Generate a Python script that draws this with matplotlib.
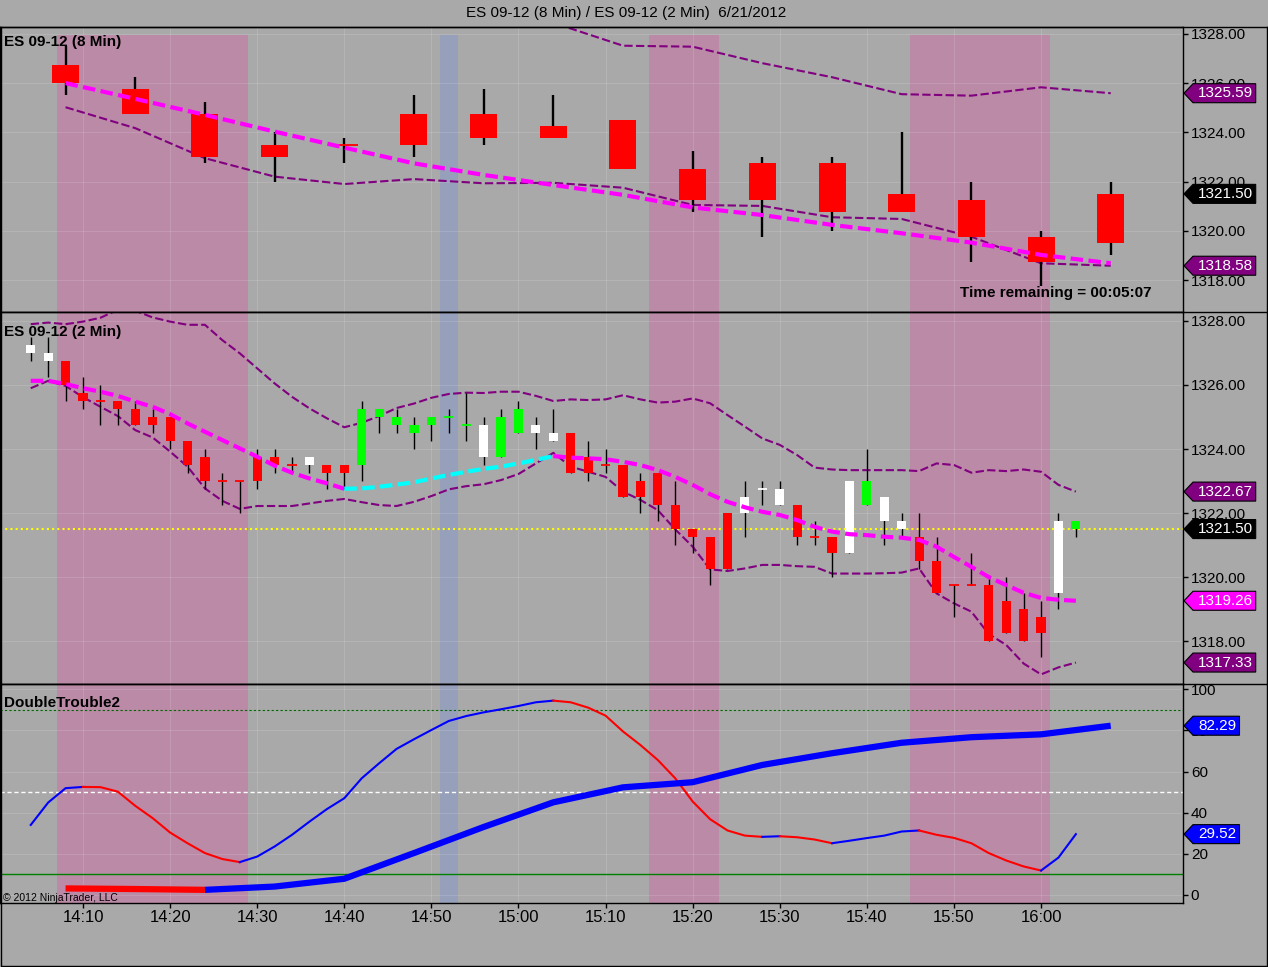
import matplotlib.pyplot as plt
from matplotlib.lines import Line2D
from matplotlib.patches import Polygon
from matplotlib.transforms import IdentityTransform

plt.rcParams['font.family'] = ['Liberation Sans', 'DejaVu Sans']

# -----------------------------
# DATA  (x = minutes after 14:00, bar close time)
# -----------------------------
tick_t = [10, 20, 30, 40, 50, 60, 70, 80, 90, 100, 110, 120]
tick_lbl = ["14:10", "14:20", "14:30", "14:40", "14:50", "15:00",
            "15:10", "15:20", "15:30", "15:40", "15:50", "16:00"]

# 8 min bars
t8 = [8, 16, 24, 32, 40, 48, 56, 64, 72, 80, 88, 96, 104, 112, 120, 128]
o8 = [1326.75, 1325.75, 1324.75, 1323.5, 1323.5, 1324.75, 1324.75, 1324.25,
      1324.5, 1322.5, 1322.75, 1322.75, 1321.5, 1321.25, 1319.75, 1319.5]
h8 = [1327.5, 1326.25, 1325.25, 1324.0, 1323.75, 1325.5, 1325.75, 1325.5,
      1324.5, 1323.25, 1323.0, 1323.0, 1324.0, 1322.0, 1320.0, 1322.0]
l8 = [1325.5, 1324.75, 1322.75, 1322.0, 1322.75, 1323.0, 1323.5, 1323.75,
      1322.5, 1320.75, 1319.75, 1320.0, 1320.75, 1318.75, 1317.75, 1319.0]
c8 = [1326.0, 1324.75, 1323.0, 1323.0, 1323.5, 1323.5, 1323.75, 1323.75,
      1322.5, 1321.25, 1321.25, 1320.75, 1320.75, 1319.75, 1318.75, 1321.5]
col8 = ['r'] * 16
ma8 = [1326.0, 1325.36, 1324.71, 1324.03, 1323.38, 1322.74, 1322.27, 1321.86,
       1321.46, 1320.95, 1320.64, 1320.24, 1319.90, 1319.52, 1319.02, 1318.68]
up8 = [1330.6, 1330.3, 1330.0, 1329.7, 1329.5, 1329.3, 1328.9, 1328.45,
       1327.52, 1327.48, 1326.81, 1326.24, 1325.55, 1325.49, 1325.83, 1325.59]
lo8 = [1325.02, 1324.17, 1322.95, 1322.20, 1321.90, 1322.10, 1321.93, 1321.95,
       1321.75, 1321.05, 1321.01, 1320.55, 1320.48, 1319.76, 1318.68, 1318.58]

# 2 min bars
t2 = list(range(4, 126, 2))
o2 = [1327.0, 1326.75, 1326.75, 1325.75, 1325.5, 1325.5, 1325.25, 1325.0, 1325.0, 1324.25,
      1323.75, 1323.0, 1323.0, 1323.75, 1323.75, 1323.5, 1323.5, 1323.5, 1323.5, 1323.5,
      1325.0, 1324.75, 1324.5, 1324.75, 1325.0, 1324.75, 1323.75, 1323.75, 1324.5, 1324.5,
      1324.25, 1324.5, 1323.75, 1323.5, 1323.5, 1323.0, 1323.25, 1322.25, 1321.5, 1321.25,
      1322.0, 1322.0, 1322.75, 1322.25, 1322.25, 1321.25, 1321.25, 1320.75, 1322.25, 1321.75,
      1321.5, 1321.25, 1320.5, 1319.75, 1319.75, 1319.75, 1319.25, 1319.0, 1318.75, 1319.5,
      1321.75]
h2 = [1327.5, 1327.5, 1326.75, 1326.25, 1326.0, 1325.5, 1325.5, 1325.25, 1325.0, 1324.25,
      1324.0, 1323.25, 1323.0, 1324.0, 1324.0, 1323.75, 1323.75, 1323.5, 1323.5, 1325.5,
      1325.25, 1325.25, 1325.0, 1325.0, 1325.25, 1325.75, 1325.0, 1325.25, 1325.5, 1325.0,
      1325.25, 1324.5, 1324.25, 1324.0, 1323.5, 1323.25, 1323.25, 1323.0, 1321.5, 1321.25,
      1322.0, 1323.0, 1323.0, 1323.0, 1322.25, 1321.75, 1321.25, 1323.0, 1324.0, 1322.5,
      1322.0, 1322.0, 1321.25, 1319.75, 1320.75, 1320.0, 1320.0, 1319.5, 1319.25, 1322.0,
      1321.75]
l2 = [1326.75, 1326.25, 1325.5, 1325.25, 1324.75, 1324.75, 1324.75, 1324.5, 1324.0, 1323.25,
      1322.75, 1322.25, 1322.0, 1322.75, 1323.25, 1323.25, 1323.25, 1322.75, 1322.75, 1323.0,
      1324.5, 1324.5, 1324.0, 1324.25, 1324.5, 1324.25, 1323.5, 1323.75, 1324.5, 1324.0,
      1324.25, 1323.25, 1323.0, 1323.25, 1322.5, 1322.0, 1321.75, 1321.0, 1320.75, 1319.75,
      1320.25, 1321.25, 1322.25, 1322.25, 1321.0, 1321.0, 1320.0, 1320.75, 1322.25, 1321.0,
      1321.25, 1320.25, 1319.5, 1318.75, 1319.75, 1318.0, 1318.25, 1318.0, 1317.5, 1319.0,
      1321.25]
c2 = [1327.25, 1327.0, 1326.0, 1325.5, 1325.5, 1325.25, 1324.75, 1324.75, 1324.25, 1323.5,
      1323.0, 1323.0, 1323.0, 1323.0, 1323.5, 1323.5, 1323.75, 1323.25, 1323.25, 1325.25,
      1325.25, 1325.0, 1324.75, 1325.0, 1325.0, 1324.75, 1324.75, 1325.0, 1325.25, 1324.75,
      1324.5, 1323.25, 1323.25, 1323.5, 1322.5, 1322.5, 1322.25, 1321.5, 1321.25, 1320.25,
      1320.25, 1322.5, 1322.75, 1322.75, 1321.25, 1321.25, 1320.75, 1323.0, 1323.0, 1322.5,
      1321.75, 1320.5, 1319.5, 1319.75, 1319.75, 1318.0, 1318.25, 1318.0, 1318.25, 1321.75,
      1321.5]
# bar colours from the chart (w = white, r = red, g = green)
col2 = list("ww" + "r" * 14 + "w" + "rr" + "g" * 7 + "w" + "gg" + "ww"
            + "r" * 10 + "www" + "rrr" + "w" + "g" + "ww" + "r" * 8 + "w" + "g")
ma2 = [1326.13, 1326.13, 1326.03, 1325.90, 1325.79, 1325.66, 1325.48, 1325.32, 1325.09, 1324.80,
       1324.54, 1324.28, 1324.02, 1323.76, 1323.48, 1323.26, 1323.08, 1322.93, 1322.76, 1322.77,
       1322.82, 1322.89, 1322.96, 1323.08, 1323.19, 1323.29, 1323.38, 1323.45, 1323.55, 1323.66,
       1323.78, 1323.73, 1323.71, 1323.68, 1323.60, 1323.50, 1323.34, 1323.13, 1322.88, 1322.59,
       1322.35, 1322.18, 1322.04, 1321.94, 1321.78, 1321.57, 1321.42, 1321.34, 1321.31, 1321.26,
       1321.23, 1321.16, 1320.95, 1320.63, 1320.32, 1320.00, 1319.75, 1319.51, 1319.35, 1319.29,
       1319.26]
up2 = [1327.90, 1327.95, 1327.90, 1327.98, 1328.10, 1328.35, 1328.32, 1328.11, 1327.98, 1327.88,
       1327.88, 1327.40, 1326.99, 1326.52, 1326.05, 1325.63, 1325.27, 1324.96, 1324.68, 1324.82,
       1325.03, 1325.28, 1325.42, 1325.60, 1325.72, 1325.76, 1325.75, 1325.79, 1325.79, 1325.66,
       1325.50, 1325.55, 1325.53, 1325.55, 1325.68, 1325.55, 1325.45, 1325.48, 1325.58, 1325.43,
       1325.06, 1324.70, 1324.33, 1324.13, 1323.81, 1323.42, 1323.36, 1323.34, 1323.34, 1323.34,
       1323.34, 1323.31, 1323.55, 1323.50, 1323.26, 1323.34, 1323.31, 1323.36, 1323.29, 1322.88,
       1322.67]
lo2 = [1325.90, 1326.13, 1325.97, 1325.62, 1325.32, 1325.03, 1324.59, 1324.36, 1323.92, 1323.45,
       1322.77, 1322.38, 1322.13, 1322.22, 1322.22, 1322.22, 1322.30, 1322.38, 1322.44, 1322.34,
       1322.25, 1322.22, 1322.35, 1322.53, 1322.74, 1322.84, 1322.90, 1323.03, 1323.22, 1323.55,
       1323.88, 1323.45, 1323.29, 1323.13, 1322.67, 1322.41, 1322.09, 1321.49, 1320.95, 1320.24,
       1320.19, 1320.27, 1320.38, 1320.38, 1320.34, 1320.32, 1320.11, 1320.11, 1320.11, 1320.12,
       1320.14, 1320.27, 1319.49, 1319.18, 1318.92, 1318.22, 1317.88, 1317.30, 1316.96, 1317.18,
       1317.33]

# DoubleTrouble2
dt_fast = [34.0, 44.9, 51.9, 52.5, 52.4, 50.2, 43.3, 37.3, 30.3, 25.1,
           20.3, 17.4, 15.9, 18.6, 23.5, 29.2, 35.6, 41.7, 47.0, 56.7,
           64.0, 71.0, 75.7, 80.2, 84.6, 87.0, 88.8, 90.3, 91.9, 93.7,
           94.5, 93.7, 91.1, 87.2, 79.5, 72.9, 65.6, 56.7, 45.4, 36.8,
           31.3, 28.8, 28.2, 28.5, 28.0, 26.9, 25.1, 26.3, 27.6, 28.8,
           30.8, 31.3, 29.2, 27.7, 25.1, 20.3, 16.7, 13.8, 11.8, 18.1,
           29.52]
dt_slow = [3.1, 2.8, 2.4, 4.0, 7.8, 20.3, 33.0, 45.0,
           52.3, 54.8, 63.2, 68.9, 74.0, 76.7, 78.1, 82.29]

pink_bars = [(8, 28), (76, 82), (106, 120)]
blue_bars = [(52, 52)]

# -----------------------------
# STYLE
# -----------------------------
W, H = 1268, 967
BG = '#a9a9a9'
PINK = '#bb8aa6'
SPAN_BLUE = '#96a0ba'
PURPLE = '#800080'
MAGENTA = '#ff00ff'
CYAN = '#00ffff'
BAR_COL = {'r': '#ff0000', 'g': '#00ff00', 'w': '#ffffff'}

fig = plt.figure(figsize=(W / 100, H / 100), dpi=100, facecolor=BG)


def px_rect(top, bottom, left=0, right=1183):
    return [left / W, 1 - bottom / H, (right - left) / W, (bottom - top) / H]


ax1 = fig.add_axes(px_rect(27, 312))
ax2 = fig.add_axes(px_rect(312, 684))
ax3 = fig.add_axes(px_rect(684, 903))

for ax in (ax1, ax2, ax3):
    ax.set_facecolor(BG)
    ax.set_xlim(0.47, 136.3)
    ax.yaxis.tick_right()
    ax.tick_params(axis='y', direction='out', length=3.6, width=1,
                   colors='black', labelsize=11, pad=2)
    ax.set_xticks(tick_t)
    ax.grid(True, color='white', alpha=0.13, lw=0.8)
    for s in ax.spines.values():
        s.set_color('black')
        s.set_linewidth(1)
    for a, b in pink_bars:
        ax.axvspan(a - 1, b + 1, color=PINK, lw=0, zorder=0.5,
                   ymax=0.972 if ax is ax1 else 1)
    for a, b in blue_bars:
        ax.axvspan(a - 1, b + 1, color=SPAN_BLUE, lw=0, zorder=0.5,
                   ymax=0.972 if ax is ax1 else 1)

for ax in (ax1, ax2):
    ax.tick_params(axis='x', length=0, labelbottom=False)
ax3.set_xticklabels(tick_lbl)
ax3.tick_params(axis='x', direction='out', length=3.6, width=1, labelsize=12, pad=1.5)

ax1.set_ylim(1316.70, 1328.28)
ax2.set_ylim(1316.66, 1328.28)
ax3.set_ylim(-4.0, 102.6)
for ax in (ax1, ax2):
    ax.set_yticks([1318, 1320, 1322, 1324, 1326, 1328])
    ax.set_yticklabels([f"{v:.2f}" for v in ax.get_yticks()])
ax3.set_yticks([0, 20, 40, 60, 80, 100])


def candles(ax, t, o, h, l, c, cols, width, wick_lw):
    for ti, oi, hi, li, ci, k in zip(t, o, h, l, c, cols):
        ax.vlines(ti, li, hi, color='black', lw=wick_lw, zorder=3)
        bot, top = min(oi, ci), max(oi, ci)
        if top - bot < 0.01:
            ax.hlines(oi, ti - width / 2, ti + width / 2, color=BAR_COL[k], lw=1.3, zorder=4)
        else:
            ax.bar(ti, top - bot, bottom=bot, width=width, color=BAR_COL[k], lw=0, zorder=4)


def plot_runs(ax, x, y, up_col, dn_col, **kw):
    segc = [up_col if y[i + 1] > y[i] else dn_col for i in range(len(y) - 1)]
    s = 0
    for i in range(1, len(segc) + 1):
        if i == len(segc) or segc[i] != segc[s]:
            ax.plot(x[s:i + 1], y[s:i + 1], color=segc[s], **kw)
            s = i


band_kw = dict(color=PURPLE, lw=1.5, dashes=(4, 1.6), zorder=2.5)
ma_kw = dict(lw=3, dashes=(3, 1.3), zorder=5, solid_capstyle='butt')

# -----------------------------
# TOP PANEL (8 Min)
# -----------------------------
ax1.plot(t8, up8, **band_kw)
ax1.plot(t8, lo8, **band_kw)
candles(ax1, t8, o8, h8, l8, c8, col8, 3.1, 1.7)
plot_runs(ax1, t8, ma8, CYAN, MAGENTA, **ma_kw)

# -----------------------------
# MIDDLE PANEL (2 Min)
# -----------------------------
ax2.plot(t2, up2, **band_kw)
ax2.plot(t2, lo2, **band_kw)
candles(ax2, t2, o2, h2, l2, c2, col2, 1.05, 1.0)
plot_runs(ax2, t2, ma2, CYAN, MAGENTA, **ma_kw)
ax2.axhline(c2[-1], color='#ffff00', lw=1.5, ls=(0, (1, 1.5)), zorder=2)

# -----------------------------
# BOTTOM PANEL (DoubleTrouble2)
# -----------------------------
ax3.axhline(90, color='#006400', lw=0.8, ls=(0, (2, 2)), zorder=2)
ax3.axhline(10, color='#008000', lw=1.0, zorder=2)
ax3.axhline(50, color='white', lw=1.0, ls=(0, (3, 2)), zorder=2)
plot_runs(ax3, t2, dt_fast, '#0000ff', '#ff0000', lw=1.5, zorder=4)
plot_runs(ax3, t8, dt_slow, '#0000ff', '#ff0000', lw=4.5, zorder=4, solid_capstyle='butt')

# -----------------------------
# TEXT
# -----------------------------
fig.text(626 / W, 1 - 13 / H, "ES 09-12 (8 Min) / ES 09-12 (2 Min)  6/21/2012",
         ha='center', va='center', fontsize=11)
ax1.text(4 / 1183, 0.949, "ES 09-12 (8 Min)", transform=ax1.transAxes,
         fontsize=11, weight='bold', va='center', zorder=6)
ax2.text(4 / 1183, 0.945, "ES 09-12 (2 Min)", transform=ax2.transAxes,
         fontsize=11, weight='bold', va='center', zorder=6)
ax3.text(4 / 1183, 0.911, "DoubleTrouble2", transform=ax3.transAxes,
         fontsize=11, weight='bold', va='center', zorder=6)
ax3.text(3 / 1183, 0.025, "\u00a9 2012 NinjaTrader, LLC", transform=ax3.transAxes,
         fontsize=7.5, va='center', zorder=6)
ax1.text(1151 / 1183, 0.068, "Time remaining = 00:05:07", transform=ax1.transAxes,
         fontsize=11, weight='bold', ha='right', va='center', zorder=6)


# -----------------------------
# PRICE TAGS on the right axis
# -----------------------------
def tag(ax, val, fc):
    txt = f"{val:.2f}"
    x0 = ax.transAxes.transform((1, 0))[0]
    y = ax.transData.transform((1, val))[1]
    w = 16 + 8.1 * len(txt)
    hh = 9.5
    pts = [(x0 + 1, y), (x0 + 10, y + hh), (x0 + w, y + hh), (x0 + w, y - hh), (x0 + 10, y - hh)]
    fig.add_artist(Polygon(pts, closed=True, fc=fc, ec='black', lw=0.8,
                           transform=IdentityTransform(), zorder=5))
    fig.text(x0 + 6 + w / 2, y, txt, transform=IdentityTransform(), color='white',
             fontsize=11, ha='center', va='center', zorder=6)


tag(ax1, up8[-1], PURPLE)
tag(ax1, c8[-1], 'black')
tag(ax1, lo8[-1], PURPLE)
tag(ax2, up2[-1], PURPLE)
tag(ax2, c2[-1], 'black')
tag(ax2, ma2[-1], MAGENTA)
tag(ax2, lo2[-1], PURPLE)
tag(ax3, dt_slow[-1], '#0000ff')
tag(ax3, dt_fast[-1], '#0000ff')

# panel separators across the full width + outer frame
for ypx in (27, 312, 684):
    fig.add_artist(Line2D([0, 1], [1 - ypx / H] * 2, color='black', lw=1,
                          transform=fig.transFigure))
fig.add_artist(Line2D([0.0005, 0.0005, 0.9995, 0.9995], [1 - 27 / H, 0.001, 0.001, 1 - 27 / H],
                      color='black', lw=1, transform=fig.transFigure))

fig.savefig("out.png", dpi=100, facecolor=BG)
